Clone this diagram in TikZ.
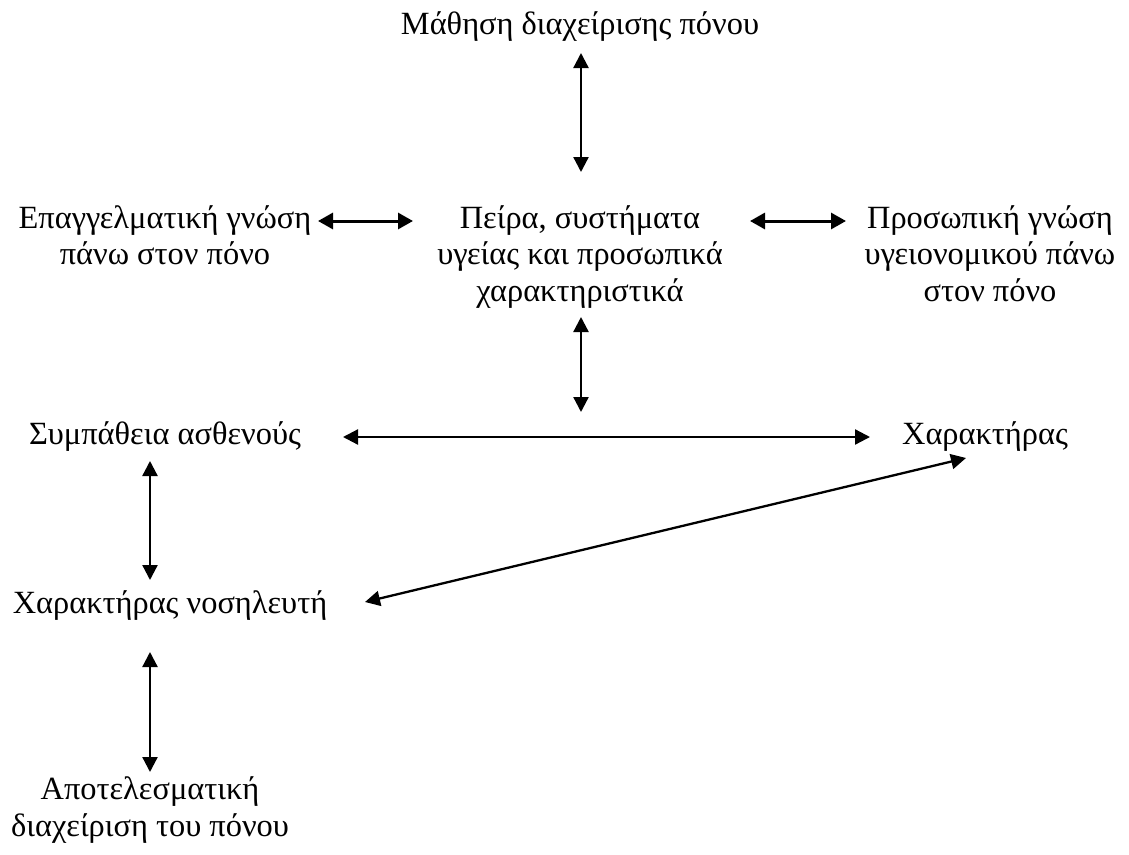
\documentclass[tikz,border=0pt]{standalone}
\usepackage{fontspec}
\setmainfont{Liberation Serif}
\usetikzlibrary{arrows.meta,calc}
\begin{document}
\begin{tikzpicture}[x=1pt,y=-1pt,
  lbl/.style={font=\fontsize{32.4}{36.5}\selectfont, inner sep=0pt, align=center, anchor=base},
  arr/.style={{Triangle[length=15pt,width=15pt]}-{Triangle[length=15pt,width=15pt]}, line width=2.3pt},
  arrb/.style={{Triangle[length=15pt,width=16pt]}-{Triangle[length=15pt,width=16pt]}, line width=3pt}]
\useasboundingbox (0,0) rectangle (1129,854);
\node[lbl] (learn) at (580,34) {Μάθηση διαχείρισης πόνου};
\node[lbl] (prof) at (165,264.5) {Επαγγελματική γνώση\\πάνω στον πόνο};
\node[lbl] (exp) at (580,301) {Πείρα, συστήματα\\υγείας και προσωπικά\\χαρακτηριστικά};
\node[lbl] (pers) at (990,301) {Προσωπική γνώση\\υγειονομικού πάνω\\στον πόνο};
\node[lbl] (symp) at (165,444) {Συμπάθεια ασθενούς};
\node[lbl] (char) at (985,444) {Χαρακτήρας};
\node[lbl] (nurse) at (170,613) {Χαρακτήρας νοσηλευτή};
\node[lbl] (eff) at (150,836) {Αποτελεσματική\\διαχείριση του πόνου};
\coordinate (hub) at (581,412);
\draw[arr] ($(learn.base)+(1,19)$) -- ($(exp.base)+(1,-129)$);
\draw[arrb] ($(prof.base)+(153,-43.5)$) -- ($(exp.base)+(-167,-80)$);
\draw[arrb] ($(exp.base)+(170,-80)$) -- ($(pers.base)+(-144,-80)$);
\draw[arr] ($(exp.base)+(1,16)$) -- (hub);
\draw[arr] ($(symp.base)+(178,-7)$) -- ($(char.base)+(-115,-7)$);
\draw[arr] ($(symp.base)+(-15,17)$) -- ($(nurse.base)+(-20,-33)$);
\draw[arr] ($(nurse.base)+(195,-11)$) -- ($(char.base)+(-19,14)$);
\draw[arr] ($(nurse.base)+(-20,39)$) -- ($(eff.base)+(0,-64)$);
\end{tikzpicture}
\end{document}
